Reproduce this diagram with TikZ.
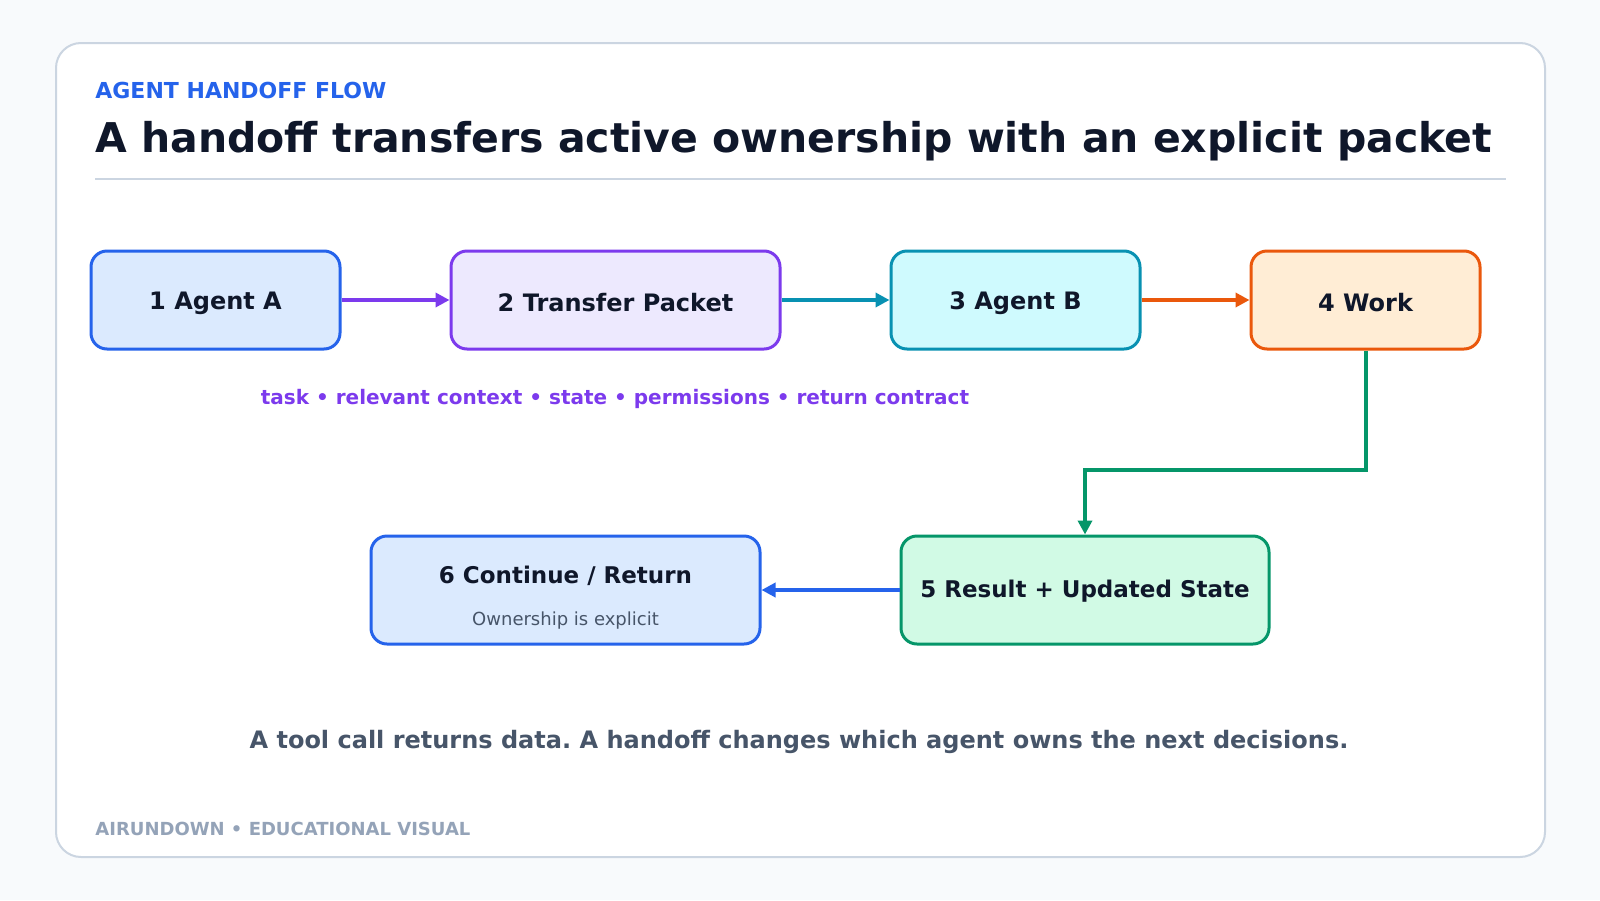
\documentclass[tikz,border=0pt]{standalone}
\usepackage{fontspec}
\setmainfont{DejaVu Sans}
\usepackage{tikz}
\usetikzlibrary{arrows.meta}
\frenchspacing
\definecolor{ink}{HTML}{0F172A}
\definecolor{slate}{HTML}{475569}
\definecolor{muted}{HTML}{94A3B8}
\definecolor{rulegray}{HTML}{CBD5E1}
\definecolor{pagebg}{HTML}{F8FAFC}
\definecolor{blueline}{HTML}{2563EB}
\definecolor{bluefill}{HTML}{DBEAFE}
\definecolor{purpleline}{HTML}{7C3AED}
\definecolor{purplefill}{HTML}{EDE9FE}
\definecolor{cyanline}{HTML}{0891B2}
\definecolor{cyanfill}{HTML}{CFFAFE}
\definecolor{orangeline}{HTML}{EA580C}
\definecolor{orangefill}{HTML}{FFEDD5}
\definecolor{greenline}{HTML}{059669}
\definecolor{greenfill}{HTML}{D1FAE5}
\tikzstyle{stepbox}=[rectangle,rounded corners=8pt,line width=1.5pt,text=ink,
                     font=\fontsize{12}{14}\selectfont\bfseries,inner sep=0pt,
                     minimum height=49pt,text height=11.5pt,text depth=0pt]
\tikzstyle{flow}=[line width=2pt,-{Triangle[length=7pt,width=7pt]}]
\newcommand\steplabel[2]{\parbox[t]{12em}{\centering #1 \\[7.3pt]
    {\fontsize{9}{11}\selectfont\mdseries\color{slate} #2}}}

\begin{document}
\begin{tikzpicture}[x=0.5pt,y=-0.5pt]
    % page and card
    \fill [pagebg] (0,0) rectangle (1600,900);
    \draw [rulegray,fill=white,line width=1pt,rounded corners=12.5pt] (56,43) rectangle (1545,857);
    \node [anchor=base west,text=blueline,font=\fontsize{11}{13}\selectfont\bfseries,inner sep=0pt]
        (kicker) at (95,98) {AGENT HANDOFF FLOW};
    \node [anchor=base west,text=ink,font=\fontsize{20.5}{25}\selectfont\bfseries,inner sep=0pt]
        (title) at (95,152) {A handoff transfers active ownership with an explicit packet};
    \draw [rulegray,line width=1pt] (95,179) -- (1506,179);

    % top row
    \node [stepbox,draw=blueline,fill=bluefill,minimum width=124.5pt,text height=9.5pt] (agentA) at (215.5,300) {1 Agent A};
    \node [stepbox,draw=purpleline,fill=purplefill,minimum width=164.5pt] (packet) at (615.5,300) {2 Transfer Packet};
    \node [stepbox,draw=cyanline,fill=cyanfill,minimum width=124.5pt,text height=9.5pt] (agentB) at (1015.5,300) {3 Agent B};
    \node [stepbox,draw=orangeline,fill=orangefill,minimum width=114.5pt] (work) at (1365.5,300) {4 Work};
    \node [text=purpleline,font=\fontsize{10}{12}\selectfont\bfseries,inner sep=0pt]
        (contents) at (615,399) {task • relevant context • state • permissions • return contract};

    % bottom row
    \node [stepbox,draw=greenline,fill=greenfill,minimum width=184pt,minimum height=54pt,
           font=\fontsize{11.5}{14}\selectfont\bfseries,text height=7.6pt] (result) at (1085,590) {5 Result + Updated State};
    \node [stepbox,draw=blueline,fill=bluefill,minimum width=194.5pt,minimum height=54pt,
           font=\fontsize{11.5}{14}\selectfont\bfseries,text height=10pt,text depth=16.7pt] (cont) at (565.5,590) {
        \steplabel{6 Continue / Return}{Ownership is explicit}
    };
    \coordinate (turn) at (1200,470);

    \draw [flow,purpleline] (agentA) -- (packet);
    \draw [flow,cyanline] (packet) -- (agentB);
    \draw [flow,orangeline] (agentB) -- (work);
    \draw [flow,greenline] (work.south) -- (work.south |- turn) -| (result.north);
    \draw [flow,blueline] (result) -- (cont);

    \node [text=slate,font=\fontsize{12}{14}\selectfont\bfseries,inner sep=0pt]
        (note) at (799,742) {A tool call returns data. A handoff changes which agent owns the next decisions.};
    \node [anchor=base west,text=muted,font=\fontsize{9}{11}\selectfont\bfseries,inner sep=0pt]
        (footer) at (95,835) {AIRUNDOWN • EDUCATIONAL VISUAL};
\end{tikzpicture}
\end{document}
